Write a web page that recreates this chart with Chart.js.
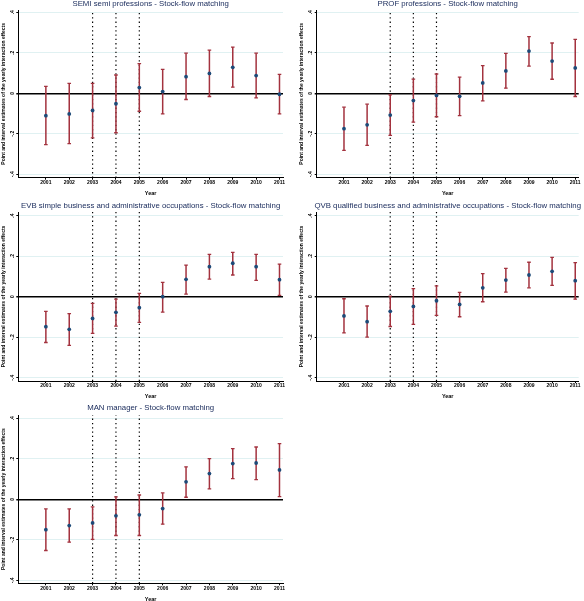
<!DOCTYPE html>
<html>
<head>
<meta charset="utf-8">
<script src="https://cdn.jsdelivr.net/npm/chart.js@4.4.1/dist/chart.umd.min.js"></script>
<style>
  body { margin: 0; background: #fff; width: 584px; height: 601px; overflow: hidden; position: relative; }
  canvas { position: absolute; }
</style>
</head>
<body>
<script>
// years on the x axis
const years = [2001, 2002, 2003, 2004, 2005, 2006, 2007, 2008, 2009, 2010, 2011];
const reformYears = [2003, 2004, 2005];
const yTicks = [-0.4, -0.2, 0, 0.2, 0.4];
const yTickLabels = ['-.4', '-.2', '0', '.2', '.4'];

// SEMI semi professions
const semiEst = [-0.111, -0.102, -0.085, -0.052, 0.028, 0.008, 0.082, 0.098, 0.128, 0.087, -0.005];
const semiLo  = [-0.254, -0.249, -0.220, -0.195, -0.089, -0.102, -0.031, -0.016, 0.030, -0.023, -0.102];
const semiHi  = [0.034, 0.049, 0.049, 0.090, 0.146, 0.118, 0.198, 0.213, 0.228, 0.198, 0.093];

// PROF professions
const profEst = [-0.175, -0.156, -0.108, -0.036, -0.011, -0.015, 0.051, 0.110, 0.208, 0.159, 0.125];
const profLo  = [-0.282, -0.257, -0.208, -0.143, -0.116, -0.111, -0.038, 0.025, 0.134, 0.069, -0.016];
const profHi  = [-0.069, -0.054, -0.008, 0.070, 0.095, 0.080, 0.136, 0.197, 0.280, 0.248, 0.266];

// EVB simple business and administrative occupations
const evbEst = [-0.148, -0.161, -0.107, -0.077, -0.054, 0.000, 0.086, 0.148, 0.165, 0.148, 0.084];
const evbLo  = [-0.226, -0.240, -0.181, -0.145, -0.127, -0.076, 0.013, 0.087, 0.107, 0.081, 0.007];
const evbHi  = [-0.072, -0.084, -0.033, -0.012, 0.016, 0.071, 0.156, 0.209, 0.219, 0.209, 0.161];

// QVB qualified business and administrative occupations
const qvbEst = [-0.095, -0.123, -0.072, -0.048, -0.020, -0.038, 0.044, 0.082, 0.107, 0.125, 0.079];
const qvbLo  = [-0.179, -0.199, -0.147, -0.137, -0.092, -0.099, -0.025, 0.023, 0.044, 0.056, -0.012];
const qvbHi  = [-0.010, -0.046, 0.003, 0.040, 0.053, 0.021, 0.114, 0.140, 0.170, 0.194, 0.168];

// MAN manager
const manEst = [-0.150, -0.130, -0.117, -0.082, -0.077, -0.046, 0.086, 0.127, 0.176, 0.179, 0.145];
const manLo  = [-0.253, -0.212, -0.198, -0.179, -0.179, -0.123, 0.010, 0.051, 0.102, 0.097, 0.013];
const manHi  = [-0.048, -0.048, -0.038, 0.012, 0.021, 0.031, 0.160, 0.201, 0.250, 0.258, 0.275];

const titles = [
  'SEMI semi professions - Stock-flow matching',
  'PROF professions - Stock-flow matching',
  'EVB simple business and administrative occupations - Stock-flow matching',
  'QVB qualified business and administrative occupations - Stock-flow matching',
  'MAN manager - Stock-flow matching'
];
const yTitle = 'Point and interval estimates of the yearly interaction effects';
const xTitle = 'Year';

const FONT = '"Liberation Sans", Arial, sans-serif';
const barColor = '#a3323e';
const dotColor = '#1d4a78';

// page layout of each panel (canvas box, plot area, title and "Year" rows)
const panels = [
  { est: semiEst, lo: semiLo, hi: semiHi, left: 0,   top: 0,   w: 292, h: 198, area: { l: 18.3,  r: 283, t: 10,  b: 177.7 }, yMin: -0.417, yMax: 0.411, titleY: 4,   yearY: 193 },
  { est: profEst, lo: profLo, hi: profHi, left: 292, top: 0,   w: 292, h: 198, area: { l: 316.7, r: 582, t: 10,  b: 177.7 }, yMin: -0.417, yMax: 0.411, titleY: 4,   yearY: 193 },
  { est: evbEst,  lo: evbLo,  hi: evbHi,  left: 0,   top: 198, w: 292, h: 203, area: { l: 18.3,  r: 283, t: 212, b: 381 },   yMin: -0.416, yMax: 0.418, titleY: 206, yearY: 396 },
  { est: qvbEst,  lo: qvbLo,  hi: qvbHi,  left: 292, top: 198, w: 292, h: 203, area: { l: 316.7, r: 582, t: 212, b: 381 },   yMin: -0.416, yMax: 0.418, titleY: 206, yearY: 396 },
  { est: manEst,  lo: manLo,  hi: manHi,  left: 0,   top: 400, w: 292, h: 205, area: { l: 18.3,  r: 283, t: 415, b: 583.3 }, yMin: -0.415, yMax: 0.416, titleY: 408, yearY: 599 }
];

const yAxisWidth = 8;

function makePanel(p, idx) {
  const canvas = document.createElement('canvas');
  canvas.width = p.w;
  canvas.height = p.h;
  canvas.style.left = p.left + 'px';
  canvas.style.top = p.top + 'px';
  document.body.appendChild(canvas);

  const areaL = p.area.l - p.left, areaR = p.area.r - p.left;
  const areaT = p.area.t - p.top, areaB = p.area.b - p.top;
  const scaleBottom = p.yearY - p.top + 3.3;
  const xAxisHeight = scaleBottom - areaB;

  // stems of the error bars, broken by nulls
  const stems = [];
  years.forEach((yr, i) => {
    stems.push({ x: yr, y: p.lo[i] }, { x: yr, y: p.hi[i] }, { x: yr, y: null });
  });
  const caps = [];
  years.forEach((yr, i) => {
    caps.push({ x: yr, y: p.lo[i] }, { x: yr, y: p.hi[i] });
  });
  const vlines = [];
  reformYears.forEach(yr => {
    vlines.push({ x: yr, y: p.yMin }, { x: yr, y: p.yMax }, { x: yr, y: null });
  });

  const decor = {
    id: 'decor' + idx,
    afterDraw(chart) {
      const ctx = chart.ctx;
      const a = chart.chartArea;
      const ys = chart.scales.y;
      ctx.save();
      // panel title
      ctx.fillStyle = '#17295a';
      ctx.font = '7.8px ' + FONT;
      ctx.textAlign = 'center';
      ctx.textBaseline = 'middle';
      ctx.fillText(titles[idx], (a.left + a.right) / 2, p.titleY - p.top);
      // rotated y tick labels
      ctx.fillStyle = '#000';
      ctx.font = 'bold 5px ' + FONT;
      yTicks.forEach((v, i) => {
        ctx.save();
        ctx.translate(a.left - 6, ys.getPixelForValue(v));
        ctx.rotate(-Math.PI / 2);
        ctx.fillText(yTickLabels[i], 0, 0);
        ctx.restore();
      });
      // y axis title
      ctx.save();
      ctx.translate(a.left - 15, (a.top + a.bottom) / 2);
      ctx.rotate(-Math.PI / 2);
      ctx.font = 'bold 5px ' + FONT;
      ctx.fillText(yTitle, 0, 0);
      ctx.restore();
      ctx.restore();
    }
  };

  new Chart(canvas, {
    type: 'line',
    data: {
      datasets: [
        {
          data: vlines, borderColor: '#000', borderWidth: 1.2, borderDash: [1.3, 3],
          pointRadius: 0, spanGaps: false, order: 4
        },
        {
          data: stems, borderColor: barColor, borderWidth: 1.5,
          pointRadius: 0, spanGaps: false, order: 3
        },
        {
          data: caps, showLine: false, pointStyle: 'line', pointRadius: 1.8,
          pointBorderColor: barColor, pointBorderWidth: 1.3, order: 2
        },
        {
          data: years.map((yr, i) => ({ x: yr, y: p.est[i] })), showLine: false,
          pointStyle: 'circle', pointRadius: 1.9, pointBackgroundColor: dotColor,
          pointBorderColor: dotColor, pointBorderWidth: 0, order: 1
        }
      ]
    },
    options: {
      responsive: false,
      animation: false,
      events: [],
      layout: {
        padding: { left: areaL - yAxisWidth, right: p.w - areaR, top: areaT, bottom: p.h - scaleBottom }
      },
      plugins: { legend: { display: false }, tooltip: { enabled: false }, title: { display: false } },
      scales: {
        x: {
          type: 'linear',
          min: 1999.82,
          max: 2011.15,
          afterBuildTicks: s => { s.ticks = years.map(v => ({ value: v })); },
          afterFit: s => { s.height = xAxisHeight; },
          ticks: {
            autoSkip: false, maxRotation: 0, padding: 0,
            color: '#000', font: { family: FONT, size: 5, weight: 'bold' },
            callback: v => String(v)
          },
          grid: { drawOnChartArea: false, drawTicks: true, tickLength: 2, tickColor: '#000' },
          border: { display: true, color: '#000', width: 1 },
          title: {
            display: true, text: xTitle, color: '#000', padding: 0,
            font: { family: FONT, size: 5.5, weight: 'bold' }
          }
        },
        y: {
          type: 'linear',
          min: p.yMin,
          max: p.yMax,
          afterBuildTicks: s => { s.ticks = yTicks.map(v => ({ value: v })); },
          afterFit: s => { s.width = yAxisWidth; },
          ticks: { display: false },
          grid: {
            color: c => (c.tick && c.tick.value === 0 ? '#000' : '#e0f1f2'),
            lineWidth: c => (c.tick && c.tick.value === 0 ? 1.4 : 1),
            drawTicks: true, tickLength: 2, tickColor: '#000'
          },
          border: { display: true, color: '#000', width: 1 }
        }
      }
    },
    plugins: [decor]
  });
}

panels.forEach(makePanel);
</script>
</body>
</html>
